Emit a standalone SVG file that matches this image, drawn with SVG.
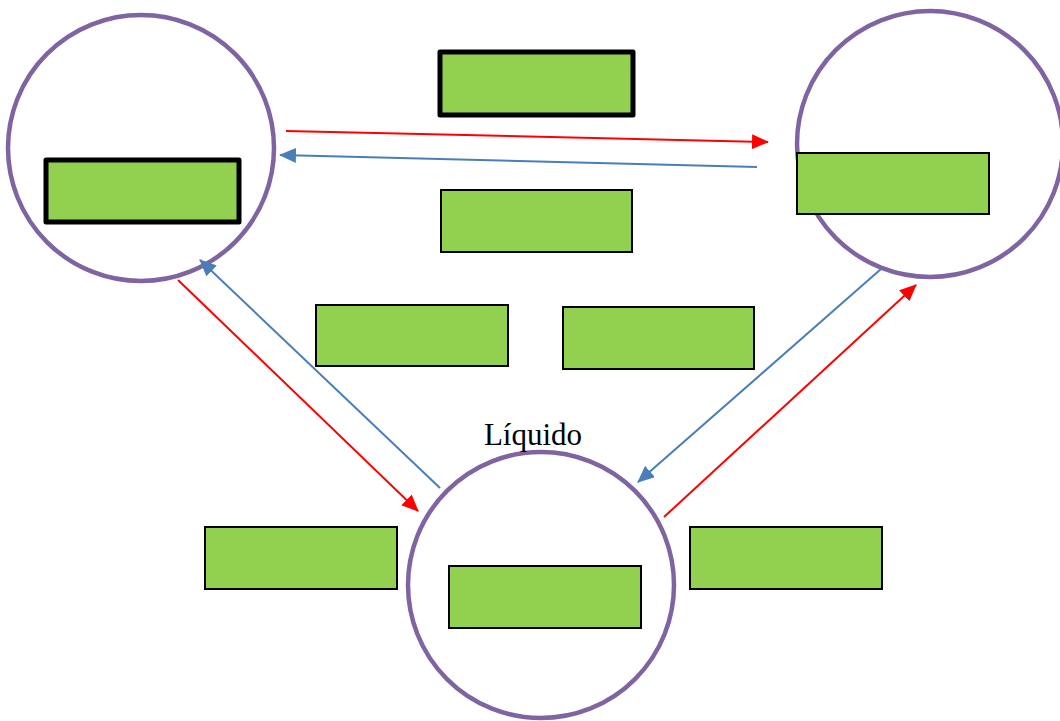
<svg xmlns="http://www.w3.org/2000/svg" width="1060" height="721" viewBox="0 0 1060 721">
<style>
.circ{fill:none;stroke:#8064A2;stroke-width:4.5}
.box{fill:#92D050;stroke:#000;stroke-width:2}
.thick{fill:#92D050;stroke:#000;stroke-width:5;stroke-linejoin:round}
.red{stroke:#FF0000;stroke-width:2;fill:none}
.blue{stroke:#4A7EBB;stroke-width:2;fill:none}
.lbl{font-family:"Liberation Serif","Times New Roman",serif;font-size:31px;fill:#000}
</style>
<defs>
<marker id="ar" markerUnits="userSpaceOnUse" markerWidth="17" markerHeight="15" refX="16" refY="7.5" orient="auto"><path d="M0,0 L17,7.5 L0,15 Z" fill="#FF0000"/></marker>
<marker id="ab" markerUnits="userSpaceOnUse" markerWidth="17" markerHeight="15" refX="16" refY="7.5" orient="auto"><path d="M0,0 L17,7.5 L0,15 Z" fill="#4A7EBB"/></marker>
</defs>
<rect width="1060" height="721" fill="#fff"/>
<g id="circle-left"><circle class="circ" cx="141" cy="148" r="133"/><rect class="thick" x="46" y="160" width="193" height="62"/></g>
<g id="circle-right"><circle class="circ" cx="930" cy="144" r="133"/><rect class="box" x="797" y="153" width="192" height="61"/></g>
<g id="circle-bottom"><circle class="circ" cx="541" cy="585" r="133"/><rect class="box" x="449" y="566" width="192" height="62"/><text class="lbl" x="533" y="445" text-anchor="middle">Líquido</text></g>
<g id="box-top"><rect class="thick" x="440" y="52" width="193" height="63"/></g>
<g id="box-mid"><rect class="box" x="441" y="190" width="191" height="62"/></g>
<g id="box-ml"><rect class="box" x="316" y="305" width="192" height="61"/></g>
<g id="box-mr"><rect class="box" x="563" y="307" width="191" height="62"/></g>
<g id="box-bl"><rect class="box" x="205" y="527" width="192" height="62"/></g>
<g id="box-br"><rect class="box" x="690" y="527" width="192" height="62"/></g>
<g id="connectors">
<line class="red" x1="286" y1="131" x2="768" y2="142" marker-end="url(#ar)"/>
<line class="blue" x1="757" y1="167" x2="280" y2="155" marker-end="url(#ab)"/>
<line class="red" x1="178" y1="280" x2="418" y2="511" marker-end="url(#ar)"/>
<line class="blue" x1="440" y1="488" x2="200" y2="260" marker-end="url(#ab)"/>
<line class="blue" x1="881" y1="269" x2="638" y2="482" marker-end="url(#ab)"/>
<line class="red" x1="664" y1="517" x2="916" y2="285" marker-end="url(#ar)"/>
</g>
</svg>
